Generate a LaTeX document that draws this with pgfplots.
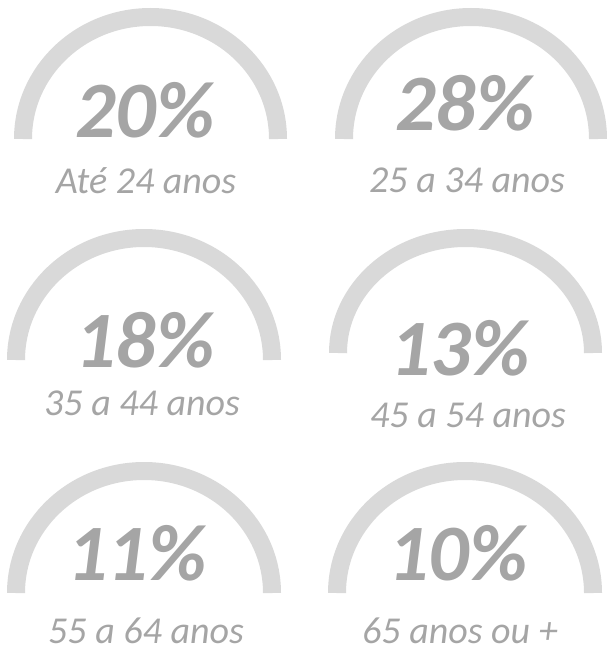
\documentclass[border=0pt]{standalone}
\usepackage{fontspec}
\setmainfont{Carlito}
\usepackage{pgfplots}
\usepackage{pgfplotstable}
\pgfplotsset{compat=1.18}
\definecolor{arcgray}{HTML}{D9D9D9}
\definecolor{txtgray}{HTML}{A5A5A5}
\pgfplotstableread{
x y pct
145 137 20
465 131 28
145 367 18
460 375 13
137 580 11
458 580 10
}\pcts
\pgfplotstableread[col sep=comma]{
x,y,label
146,193,Até 24 anos
467,192,25 a 34 anos
142,415,35 a 44 anos
468,427,45 a 54 anos
146,643,55 a 64 anos
460,643,65 anos ou +
}\labs
\begin{document}
\begin{tikzpicture}
\begin{axis}[
  scale only axis, width=607pt, height=650pt,
  xmin=0, xmax=607, ymin=0, ymax=650, y dir=reverse,
  hide axis, clip=false,
]
% gauge arcs (decoration)
\draw[arcgray, line width=18pt] (axis cs:23,139) arc[start angle=180, end angle=0, x radius=127.5pt, y radius=122pt];
\draw[arcgray, line width=18pt] (axis cs:344,139) arc[start angle=180, end angle=0, x radius=127pt, y radius=122pt];
\draw[arcgray, line width=18pt] (axis cs:16,360) arc[start angle=180, end angle=0, x radius=128pt, y radius=122pt];
\draw[arcgray, line width=18pt] (axis cs:338,353) arc[start angle=180, end angle=0, x radius=127.5pt, y radius=115pt];
\draw[arcgray, line width=18pt] (axis cs:16,593) arc[start angle=180, end angle=0, x radius=128pt, y radius=122pt];
\draw[arcgray, line width=18pt] (axis cs:337,593) arc[start angle=180, end angle=0, x radius=128pt, y radius=122pt];
\addplot[draw=none, mark=none, point meta=explicit symbolic,
  nodes near coords={\pgfplotspointmeta\%},
  nodes near coords style={anchor=base, inner sep=0pt, text=txtgray,
    font=\fontsize{80}{80}\selectfont\bfseries\itshape}]
  table[x=x, y=y, meta=pct]{\pcts};
\addplot[draw=none, mark=none, point meta=explicit symbolic,
  nodes near coords={\pgfplotspointmeta},
  nodes near coords style={anchor=base, inner sep=0pt, text=txtgray,
    font=\fontsize{38}{38}\selectfont\itshape}]
  table[x=x, y=y, meta=label]{\labs};
\end{axis}
\pgfresetboundingbox
\path[use as bounding box] (0,0) rectangle (607pt,650pt);
\end{tikzpicture}
\end{document}
